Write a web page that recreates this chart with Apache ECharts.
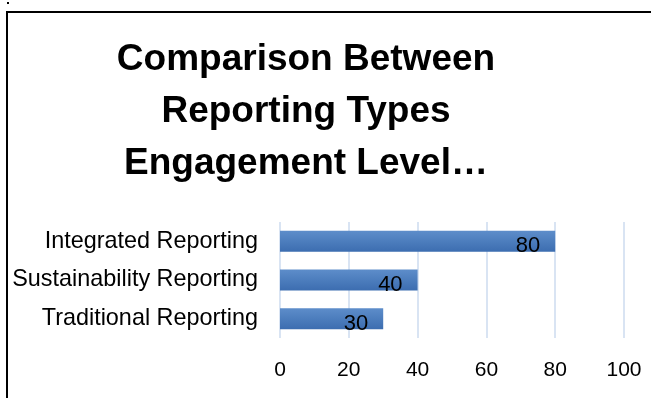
<!DOCTYPE html>
<html><head><meta charset="utf-8">
<script src="https://cdn.jsdelivr.net/npm/echarts@6/dist/echarts.min.js"></script>
<style>html,body{margin:0;padding:0;background:#fff}#c{width:651px;height:398px}</style>
</head><body><div id="c"></div>
<script>
var categories = ['Traditional Reporting', 'Sustainability Reporting', 'Integrated Reporting'];
var values = [30, 40, 80];
var xTicks = [0, 20, 40, 60, 80, 100];
var titleText = 'Comparison Between\nReporting Types\nEngagement Level…';

var chart = echarts.init(document.getElementById('c'));
chart.setOption({
  animation: false,
  backgroundColor: '#fff',
  title: {
    text: titleText, left: 301, top: 29, textAlign: 'center',
    textStyle: { fontFamily: 'Liberation Sans', fontWeight: 'bold', fontSize: 37, lineHeight: 52, color: '#000' }
  },
  graphic: [
    { type: 'polyline', shape: { points: [[7, 398], [7, 12], [651, 12]] }, style: { stroke: '#000', lineWidth: 2, fill: null } },
    { type: 'rect', shape: { x: 7, y: 2, width: 2, height: 2 }, style: { fill: '#000' } }
  ],
  grid: { left: 280, right: 27, top: 222, bottom: 60, containLabel: false },
  xAxis: {
    type: 'value', min: 0, max: 100, interval: 20,
    axisLine: { show: false }, axisTick: { show: false },
    splitLine: { show: true, lineStyle: { color: '#d9e4f3', width: 2 } },
    axisLabel: { margin: 22, fontSize: 21, color: '#000', fontFamily: 'Liberation Sans',
      formatter: function (v) { return xTicks.indexOf(v) >= 0 ? String(v) : ''; } }
  },
  yAxis: {
    type: 'category', data: categories,
    axisLine: { show: false }, axisTick: { show: false },
    axisLabel: { margin: 22, fontSize: 23.4, color: '#000', fontFamily: 'Liberation Sans' }
  },
  series: [{
    type: 'bar', data: values, barWidth: 21,
    itemStyle: { color: new echarts.graphic.LinearGradient(0, 0, 0, 1, [
      { offset: 0, color: '#5d8dca' }, { offset: 1, color: '#3c6db0' }]) },
    label: { show: true, position: 'insideRight', offset: [0, 5], distance: 15, fontSize: 22, color: '#000', fontFamily: 'Liberation Sans' }
  }]
});
</script></body></html>
